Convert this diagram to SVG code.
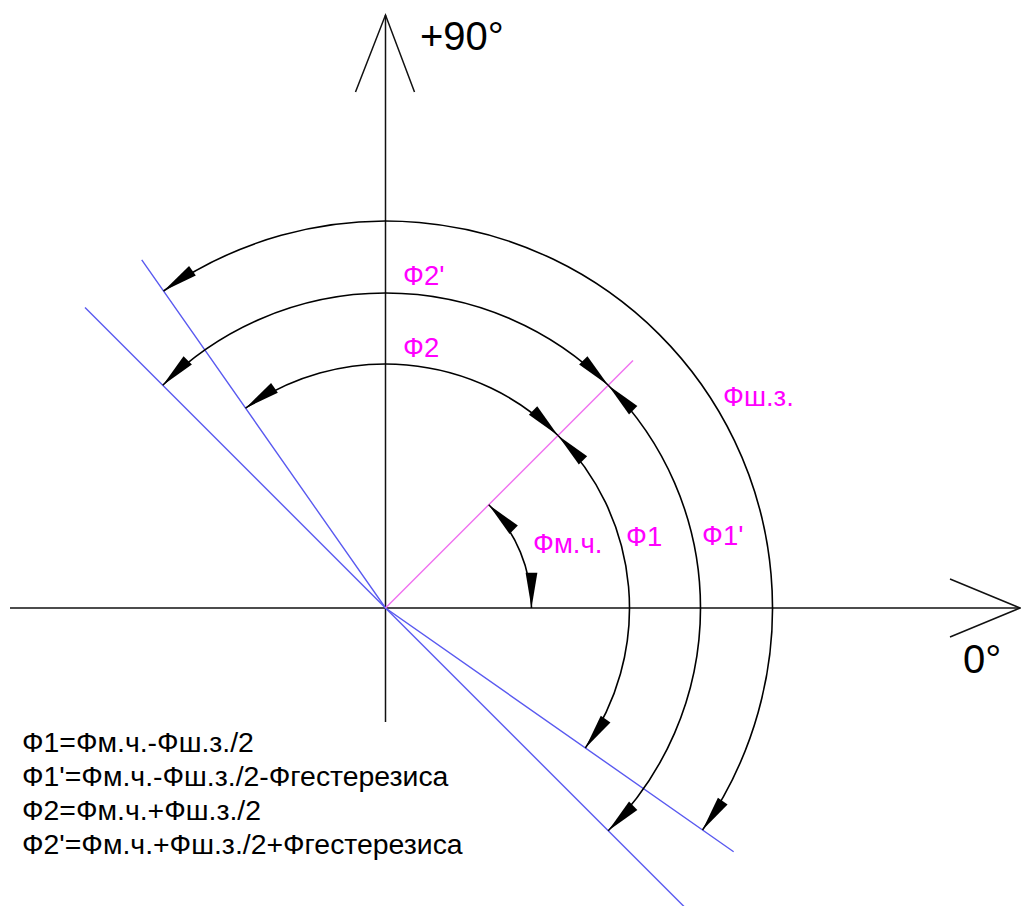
<svg xmlns="http://www.w3.org/2000/svg" width="1021" height="906" viewBox="0 0 1021 906">
<style>
.axis{stroke:#111;stroke-width:1.5;fill:none}
.arc{stroke:#000;stroke-width:1.6;fill:none;marker-start:url(#ah);marker-end:url(#ah)}
.blue{stroke:#5a5af0;stroke-width:1.4;fill:none}
.mag{stroke:#f070f0;stroke-width:1.4;fill:none}
.lbl{font-family:"Liberation Sans",Arial,sans-serif;font-size:27.5px;fill:#ff00ff}
.ax{font-family:"Liberation Sans",Arial,sans-serif;font-size:40px;fill:#000}
.eq{font-family:"Liberation Sans",Arial,sans-serif;font-size:28.4px;fill:#000}
</style>
<defs>
<marker id="ah" markerUnits="userSpaceOnUse" markerWidth="40" markerHeight="20" viewBox="-32 -8 34 16" refX="0" refY="0" orient="auto-start-reverse" overflow="visible">
<path d="M0,0 L-30,-5 L-30,5 Z" fill="#000"/>
</marker>
</defs>
<rect width="1021" height="906" fill="#fff"/>
<g id="diagram" transform="translate(385.5,608)">
<g id="axes">
<line class="axis" x1="0" y1="-593" x2="0" y2="114"/>
<polyline class="axis" points="-30,-516 0,-593 29,-516"/>
<line class="axis" x1="-375.5" y1="0" x2="634.5" y2="0"/>
<polyline class="axis" points="564.5,-29 634.5,0 564.5,29"/>
</g>
<g id="lines">
<polyline class="blue" points="-243.77,-348.14 0,0 348.14,243.77"/>
<line class="blue" x1="-300.52" y1="-300.52" x2="302" y2="302"/>
<line class="mag" x1="0" y1="0" x2="247.49" y2="-247.49"/>
</g>
<g id="connectors">
<path id="arc-sh" class="arc" d="M317.01,221.98 A387,387 0 0 0 -221.98,-317.01"/>
<path id="arc-f2p" class="arc" d="M222.74,-222.74 A315,315 0 0 0 -222.74,-222.74"/>
<path id="arc-f1p" class="arc" d="M222.74,-222.74 A315,315 0 0 1 222.74,222.74"/>
<path id="arc-f2" class="arc" d="M172.53,-172.53 A244,244 0 0 0 -139.95,-199.87"/>
<path id="arc-f1" class="arc" d="M172.53,-172.53 A244,244 0 0 1 199.87,139.95"/>
<path id="arc-mch" class="arc" d="M146,0 A146,146 0 0 0 103.24,-103.24"/>
</g>
</g>
<g id="labels">
<text class="ax" x="420" y="50">+90°</text>
<text class="ax" x="963" y="673">0°</text>
<text class="lbl" x="403" y="285">Ф2'</text>
<text class="lbl" x="403" y="357">Ф2</text>
<text class="lbl" x="723" y="406">Фш.з.</text>
<text class="lbl" x="533" y="553">Фм.ч.</text>
<text class="lbl" x="626" y="546">Ф1</text>
<text class="lbl" x="702" y="545">Ф1'</text>
</g>
<g id="formulas">
<text class="eq" x="22" y="752">Ф1=Фм.ч.-Фш.з./2</text>
<text class="eq" x="22" y="786">Ф1'=Фм.ч.-Фш.з./2-Фгестерезиса</text>
<text class="eq" x="22" y="820">Ф2=Фм.ч.+Фш.з./2</text>
<text class="eq" x="22" y="854">Ф2'=Фм.ч.+Фш.з./2+Фгестерезиса</text>
</g>
</svg>
